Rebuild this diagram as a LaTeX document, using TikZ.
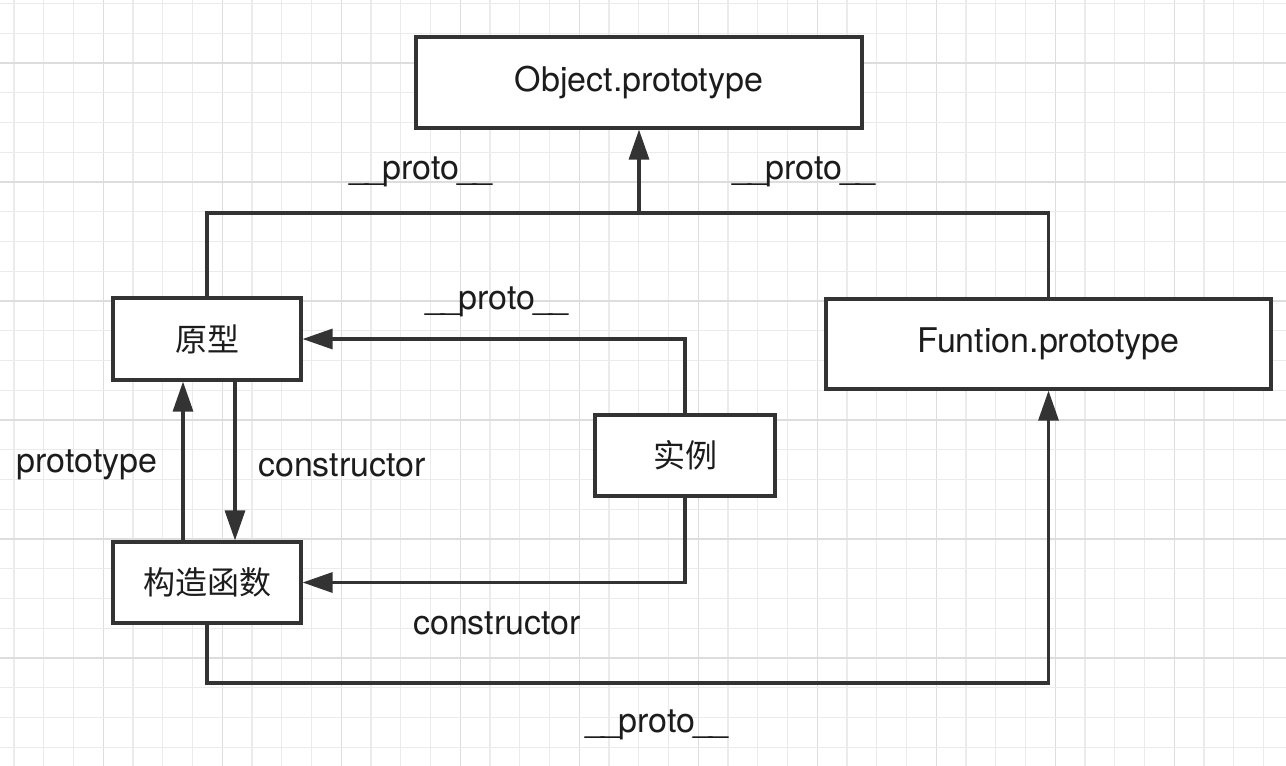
\documentclass[tikz,border=0pt]{standalone}
\usepackage{fontspec}
\setmainfont{TeX Gyre Heros}
\newfontfamily\cjk{Noto Sans CJK SC}
\usetikzlibrary{arrows.meta}
\definecolor{ln}{HTML}{333333}
\definecolor{tx}{HTML}{1C1C1C}
\definecolor{gminor}{HTML}{EBEBEB}
\definecolor{gmajor}{HTML}{DDDDDD}
\newcommand\uu{\makebox[8pt][c]{\_}}
\tikzset{
  box/.style={draw=ln, line width=1.6pt, fill=white, rectangle, inner sep=0pt, text=tx, font=\fontsize{17}{20}\selectfont},
  cbox/.style={box, font=\cjk\fontsize{16}{19}\selectfont},
  conn/.style={draw=ln, line width=1.6pt},
  arr/.style={conn, -{Triangle[length=15pt,width=10pt]}},
  lbl/.style={text=tx, inner sep=0pt, font=\fontsize{17}{20}\selectfont}
}
\begin{document}
\begin{tikzpicture}[x=0.5pt,y=-0.5pt]
\useasboundingbox (0,0) rectangle (1286,766);
\fill[white] (0,0) rectangle (1286,766);
% grid
\foreach \i in {0,...,43} {
  \pgfmathsetmacro{\xx}{14+29.75*\i}
  \pgfmathtruncatemacro{\m}{mod(\i,4)}
  \ifnum\m=3
    \draw[gmajor, line width=0.6pt] (\xx,0) -- (\xx,766);
  \else
    \draw[gminor, line width=0.6pt] (\xx,0) -- (\xx,766);
  \fi
}
\foreach \i in {0,...,25} {
  \pgfmathsetmacro{\yy}{3.5+29.75*\i}
  \pgfmathtruncatemacro{\m}{mod(\i,4)}
  \ifnum\m=2
    \draw[gmajor, line width=0.6pt] (0,\yy) -- (1286,\yy);
  \else
    \draw[gminor, line width=0.6pt] (0,\yy) -- (1286,\yy);
  \fi
}
% nodes
\node[box, minimum width=223pt, minimum height=45.5pt] (obj) at (639,82.5) {Object.prototype};
\node[cbox, minimum width=94pt, minimum height=41pt] (yx) at (207,339) {原型};
\node[cbox, minimum width=94pt, minimum height=40.5pt] (gz) at (207,582.5) {构造函数};
\node[cbox, minimum width=90pt, minimum height=40.5pt] (sl) at (685,455.5) {实例};
\node[box, minimum width=222.5pt, minimum height=45pt] (fn) at (1048.5,344) {Funtion.prototype};
% junctions
\coordinate (j) at (639,213);
\coordinate (b) at (640,683);
% connectors
\draw[conn] (yx.north) |- (j) -| (fn.north);
\draw[arr] (j) -- (obj.south);
\draw[arr] ([xshift=-12pt]gz.north) -- ([xshift=-12pt]yx.south);
\draw[arr] ([xshift=14pt]yx.south) -- ([xshift=14pt]gz.north);
\draw[arr] (sl.north) |- (yx.east);
\draw[arr] (sl.south) |- (gz.east);
\draw[conn] (gz.south) |- (b);
\draw[arr] (b) -| (fn.south);
% labels
\node[lbl] (l1) at (421,172) {\uu\uu proto\uu\uu};
\node[lbl] (l2) at (804,172) {\uu\uu proto\uu\uu};
\node[lbl] (l3) at (497,302) {\uu\uu proto\uu\uu};
\node[lbl] (l4) at (87,465) {prototype};
\node[lbl] (l5) at (342,465) {constructor};
\node[lbl] (l6) at (497,623) {constructor};
\node[lbl] (l7) at (657,725) {\uu\uu proto\uu\uu};
\end{tikzpicture}
\end{document}
